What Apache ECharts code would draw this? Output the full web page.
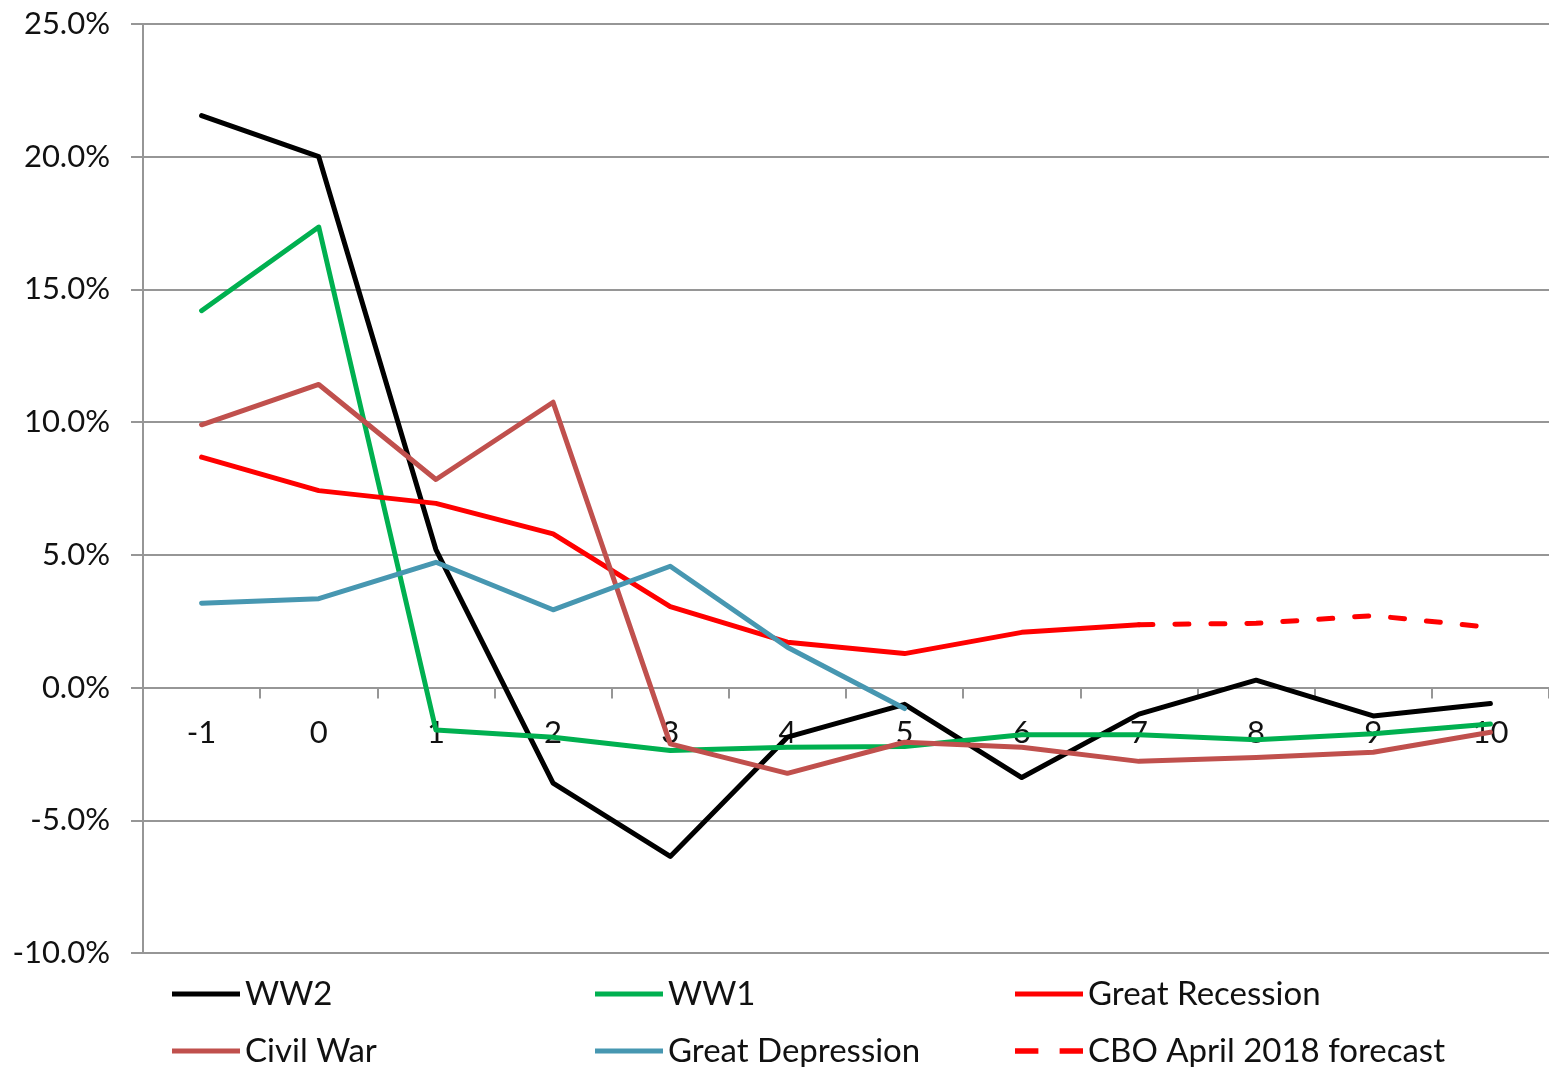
<!DOCTYPE html>
<html>
<head>
<meta charset="utf-8">
<script src="https://cdn.jsdelivr.net/npm/echarts@6/dist/echarts.min.js"></script>
<style>
  html, body { margin: 0; padding: 0; background: #fff; }
  #main { width: 1549px; height: 1067px; }
</style>
</head>
<body>
<div id="main"></div>
<script>
// years from start of war / recession
var categories = ['-1', '0', '1', '2', '3', '4', '5', '6', '7', '8', '9', '10'];

// values in percent
var ww2 = [21.55, 20.0, 5.2, -3.6, -6.36, -1.87, -0.63, -3.39, -1.0, 0.28, -1.07, -0.6];
var ww1 = [14.2, 17.35, -1.6, -1.87, -2.37, -2.25, -2.22, -1.78, -1.78, -1.97, -1.74, -1.37];
var greatRecession = [8.68, 7.42, 6.94, 5.79, 3.05, 1.71, 1.28, 2.08, 2.37, null, null, null];
var civilWar = [9.9, 11.42, 7.84, 10.75, -2.12, -3.23, -2.06, -2.25, -2.78, -2.63, -2.44, -1.68];
var greatDepression = [3.18, 3.35, 4.72, 2.93, 4.57, 1.52, -0.79, null, null, null, null, null];
var cboForecast = [null, null, null, null, null, null, null, null, 2.37, 2.42, 2.71, 2.27];

var yTicks = { min: -10, max: 25, interval: 5 };

var FONT = 'Lato, "Noto Sans", sans-serif';
var GRID_COLOR = '#969696';
var GRID_TOP = 24, GRID_H = 929;

// legend icons: solid bar and two dashes
var ICON_SOLID = 'path://M0,0 H68 V5 H0 Z';
var ICON_DASH = 'path://M2,0 H24 V5 H2 Z M44,0 H66 V5 H44 Z';

var chart = echarts.init(document.getElementById('main'));

function lineSeries (name, data, color, dashed) {
  return {
    name: name,
    type: 'line',
    data: data,
    symbol: 'none',
    connectNulls: false,
    animation: false,
    lineStyle: {
      color: color,
      width: 5,
      type: dashed ? [14, 22] : 'solid',
      cap: 'round',
      join: 'round'
    },
    itemStyle: { color: color }
  };
}

// one legend per item so each sits where Excel put it (3 columns x 2 rows)
function legendItem (left, centerY, name, icon) {
  return {
    left: left,
    top: centerY - 17,
    padding: 0,
    itemWidth: 68,
    itemHeight: 34,
    data: [{ name: name, icon: icon }],
    textStyle: {
      fontFamily: FONT,
      fontSize: 33,
      lineHeight: 34,
      color: '#111'
    }
  };
}

// zero line position, so the category axis sits on 0%
var zeroOffset = -(GRID_H * (0 - yTicks.min) / (yTicks.max - yTicks.min));

chart.setOption({
  backgroundColor: '#fff',
  animation: false,
  grid: {
    left: 143,
    top: GRID_TOP,
    width: 1411,
    height: GRID_H
  },
  legend: [
    legendItem(172, 994, 'WW2', ICON_SOLID),
    legendItem(172, 1051, 'Civil War', ICON_SOLID),
    legendItem(595, 994, 'WW1', ICON_SOLID),
    legendItem(595, 1051, 'Great Depression', ICON_SOLID),
    legendItem(1015, 994, 'Great Recession', ICON_SOLID),
    legendItem(1015, 1051, 'CBO April 2018 forecast', ICON_DASH)
  ],
  xAxis: {
    type: 'category',
    data: categories,
    boundaryGap: true,
    offset: zeroOffset,
    axisLine: { onZero: false, lineStyle: { color: GRID_COLOR, width: 2 } },
    axisTick: { show: true, length: 11, lineStyle: { color: GRID_COLOR, width: 2 } },
    axisLabel: {
      margin: 30,
      fontFamily: FONT,
      fontSize: 31,
      lineHeight: 30,
      color: '#111'
    },
    splitLine: { show: false }
  },
  yAxis: {
    type: 'value',
    min: yTicks.min,
    max: yTicks.max,
    interval: yTicks.interval,
    axisLine: { show: true, lineStyle: { color: GRID_COLOR, width: 2 } },
    axisTick: { show: true, length: 12, lineStyle: { color: GRID_COLOR, width: 2 } },
    axisLabel: {
      margin: 33,
      fontFamily: FONT,
      fontSize: 31,
      color: '#111',
      formatter: function (v) { return v.toFixed(1) + '%'; }
    },
    splitLine: { show: true, lineStyle: { color: GRID_COLOR, width: 2 } }
  },
  series: [
    lineSeries('WW2', ww2, '#000000'),
    lineSeries('WW1', ww1, '#00B050'),
    lineSeries('Great Recession', greatRecession, '#FF0000'),
    lineSeries('Civil War', civilWar, '#C0504D'),
    lineSeries('Great Depression', greatDepression, '#4797B1'),
    lineSeries('CBO April 2018 forecast', cboForecast, '#FF0000', true)
  ]
});
</script>
</body>
</html>
